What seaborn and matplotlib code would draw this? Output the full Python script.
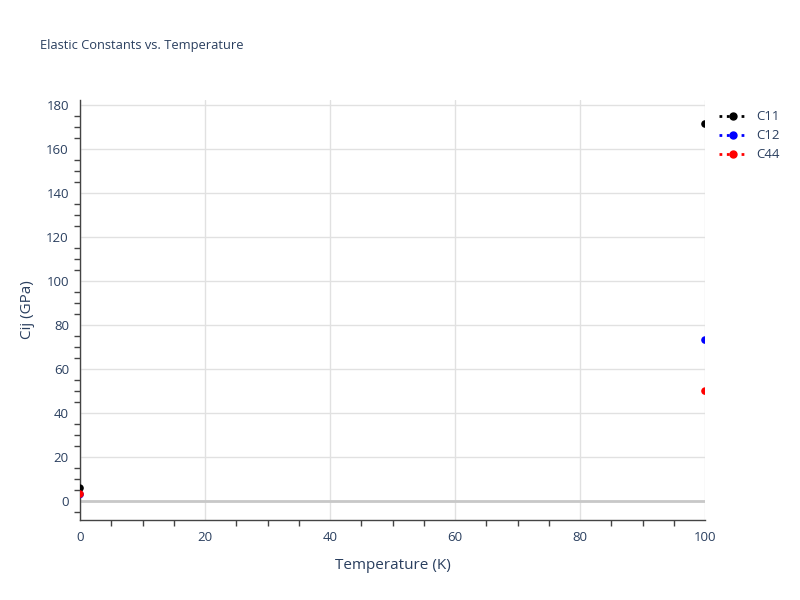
import pandas as pd
import matplotlib.pyplot as plt
import seaborn as sns
from matplotlib.lines import Line2D
from matplotlib.ticker import MultipleLocator

# data
temperature = [0, 100]
c11 = [5.9, 171.4]
c12 = [3.0, 73.2]
c44 = [3.2, 50.0]

df = pd.DataFrame({
    'Temperature': temperature * 3,
    'Cij': c11 + c12 + c44,
    'Constant': ['C11'] * 2 + ['C12'] * 2 + ['C44'] * 2,
})
colors = {'C11': 'black', 'C12': 'blue', 'C44': 'red'}

sns.set_style('white')
plt.rcParams['font.family'] = ['Open Sans', 'DejaVu Sans']
text_color = '#2a3f5f'

fig = plt.figure(figsize=(8, 6), dpi=100)
ax = fig.add_axes([0.1, 0.1333, 0.78125, 0.7])

ax.grid(True, color='#e1e1e1', linewidth=1)
ax.set_axisbelow(True)
ax.axhline(0, color='#c8c8c8', linewidth=2, zorder=1)

sns.scatterplot(data=df, x='Temperature', y='Cij', hue='Constant', palette=colors,
                s=30, edgecolor='none', legend=False, ax=ax, zorder=3)

ax.set_xlim(0, 100)
ax.set_ylim(-8.6, 182.3)
ax.xaxis.set_major_locator(MultipleLocator(20))
ax.xaxis.set_minor_locator(MultipleLocator(5))
ax.yaxis.set_major_locator(MultipleLocator(20))
ax.yaxis.set_minor_locator(MultipleLocator(5))
ax.tick_params(which='major', direction='out', length=0, pad=8,
               labelcolor=text_color, labelsize=9.5, left=True, bottom=True)
ax.tick_params(which='minor', direction='out', length=4, width=1, color='#444444',
               left=True, bottom=True)

for side in ['top', 'right']:
    ax.spines[side].set_visible(False)
for side in ['left', 'bottom']:
    ax.spines[side].set_color('#444444')
    ax.spines[side].set_linewidth(1)

ax.set_xlabel('Temperature (K)', color=text_color, fontsize=11, labelpad=10)
ax.set_ylabel('Cij (GPa)', color=text_color, fontsize=11, labelpad=8)
fig.text(0.05, 0.925, 'Elastic Constants vs. Temperature', color=text_color,
         fontsize=9.3, ha='left', va='center')

handles = [Line2D([0], [0], color=colors[k], linestyle=':', linewidth=2, marker='o',
                  markersize=5, label=k) for k in ['C11', 'C12', 'C44']]
leg = fig.legend(handles=handles, loc='upper left', bbox_to_anchor=(0.892, 0.825),
                 frameon=False, fontsize=9.5, handlelength=2.2, labelspacing=0.45,
                 borderaxespad=0, handletextpad=0.6)
for t in leg.get_texts():
    t.set_color(text_color)

plt.savefig('out.png', dpi=100)
